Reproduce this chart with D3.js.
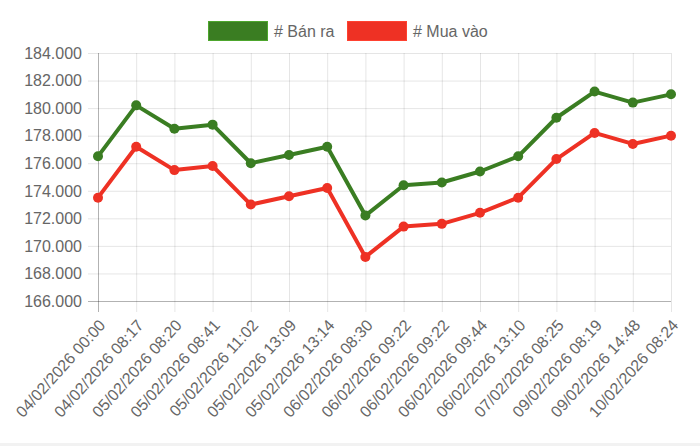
<!DOCTYPE html>
<html>
<head>
<meta charset="utf-8">
<script src="https://cdn.jsdelivr.net/npm/d3@7"></script>
<style>
  body { margin: 0; background: #f2f2f2; }
  #chart { width: 700px; height: 443px; background: #fff; }
</style>
</head>
<body>
<div id="chart"></div>
<script>
const labels = ["04/02/2026 00:00", "04/02/2026 08:17", "05/02/2026 08:20", "05/02/2026 08:41",
  "05/02/2026 11:02", "05/02/2026 13:09", "05/02/2026 13:14", "06/02/2026 08:30",
  "06/02/2026 09:22", "06/02/2026 09:22", "06/02/2026 09:44", "06/02/2026 13:10",
  "07/02/2026 08:25", "09/02/2026 08:19", "09/02/2026 14:48", "10/02/2026 08:24"];
const banRa = [176500, 180200, 178500, 178800, 176000, 176600, 177200, 172200,
  174400, 174600, 175400, 176500, 179300, 181200, 180400, 181000];
const muaVao = [173500, 177200, 175500, 175800, 173000, 173600, 174200, 169200,
  171400, 171600, 172400, 173500, 176300, 178200, 177400, 178000];
const yTicks = [166000, 168000, 170000, 172000, 174000, 176000, 178000, 180000, 182000, 184000];

const series = [
  { name: "# Bán ra", color: "#3a7d22", values: banRa },
  { name: "# Mua vào", color: "#ee3124", values: muaVao }
];

const width = 700, height = 443;
const margin = { top: 53, right: 29, bottom: 142, left: 98 };
const font = "'Liberation Sans', Arial, sans-serif";

const svg = d3.select("#chart").append("svg")
  .attr("width", width).attr("height", height)
  .style("font-family", font);

const x = d3.scalePoint()
  .domain(d3.range(labels.length))
  .range([margin.left, width - margin.right]);

const y = d3.scaleLinear()
  .domain([166000, 184000])
  .range([height - margin.bottom, margin.top]);

const fmt = v => d3.format(",")(v).replace(/,/g, ".");

// grid
svg.append("g")
  .attr("stroke", "rgba(0,0,0,0.1)")
  .selectAll("line.h").data(yTicks).join("line")
    .attr("x1", margin.left - 10).attr("x2", width - margin.right)
    .attr("y1", d => y(d) + 0.5).attr("y2", d => y(d) + 0.5);

svg.append("g")
  .attr("stroke", "rgba(0,0,0,0.1)")
  .selectAll("line.v").data(d3.range(labels.length)).join("line")
    .attr("x1", d => x(d) + 0.5).attr("x2", d => x(d) + 0.5)
    .attr("y1", margin.top).attr("y2", height - margin.bottom + 11);

// axis lines
svg.append("line")
  .attr("stroke", "rgba(0,0,0,0.22)")
  .attr("x1", margin.left + 0.5).attr("x2", margin.left + 0.5)
  .attr("y1", margin.top).attr("y2", height - margin.bottom + 11);
svg.append("line")
  .attr("stroke", "rgba(0,0,0,0.22)")
  .attr("x1", margin.left - 10).attr("x2", width - margin.right)
  .attr("y1", y(166000) + 0.5).attr("y2", y(166000) + 0.5);

// y labels
svg.append("g")
  .attr("fill", "#666").attr("font-size", 16).attr("text-anchor", "end")
  .selectAll("text").data(yTicks).join("text")
    .attr("x", margin.left - 16)
    .attr("y", d => y(d))
    .attr("dy", "0.36em")
    .text(fmt);

// x labels
svg.append("g")
  .attr("fill", "#666").attr("font-size", 16).attr("text-anchor", "end")
  .selectAll("text").data(labels).join("text")
    .attr("transform", (d, i) => `translate(${x(i) + 4},${height - margin.bottom + 21}) rotate(-48)`)
    .attr("dy", "0.36em")
    .text(d => d);

// lines
const line = d3.line().x((d, i) => x(i)).y(d => y(d));
series.forEach(s => {
  svg.append("path")
    .datum(s.values)
    .attr("fill", "none")
    .attr("stroke", s.color)
    .attr("stroke-width", 4)
    .attr("stroke-linejoin", "round")
    .attr("d", line);
  svg.append("g")
    .attr("fill", s.color)
    .selectAll("circle").data(s.values).join("circle")
      .attr("cx", (d, i) => x(i))
      .attr("cy", d => y(d))
      .attr("r", 5);
});

// legend
const legendX = [208, 347];
const lg = svg.append("g");
series.forEach((s, i) => {
  lg.append("rect")
    .attr("x", legendX[i] + 0.5).attr("y", 21.5)
    .attr("width", 59).attr("height", 19)
    .attr("fill", s.color)
    .attr("stroke", d3.color(s.color).brighter(0.8))
    .attr("stroke-width", 1);
  lg.append("text")
    .attr("x", legendX[i] + 66).attr("y", 31)
    .attr("dy", "0.36em")
    .attr("fill", "#666").attr("font-size", 16)
    .text(s.name);
});
</script>
</body>
</html>
